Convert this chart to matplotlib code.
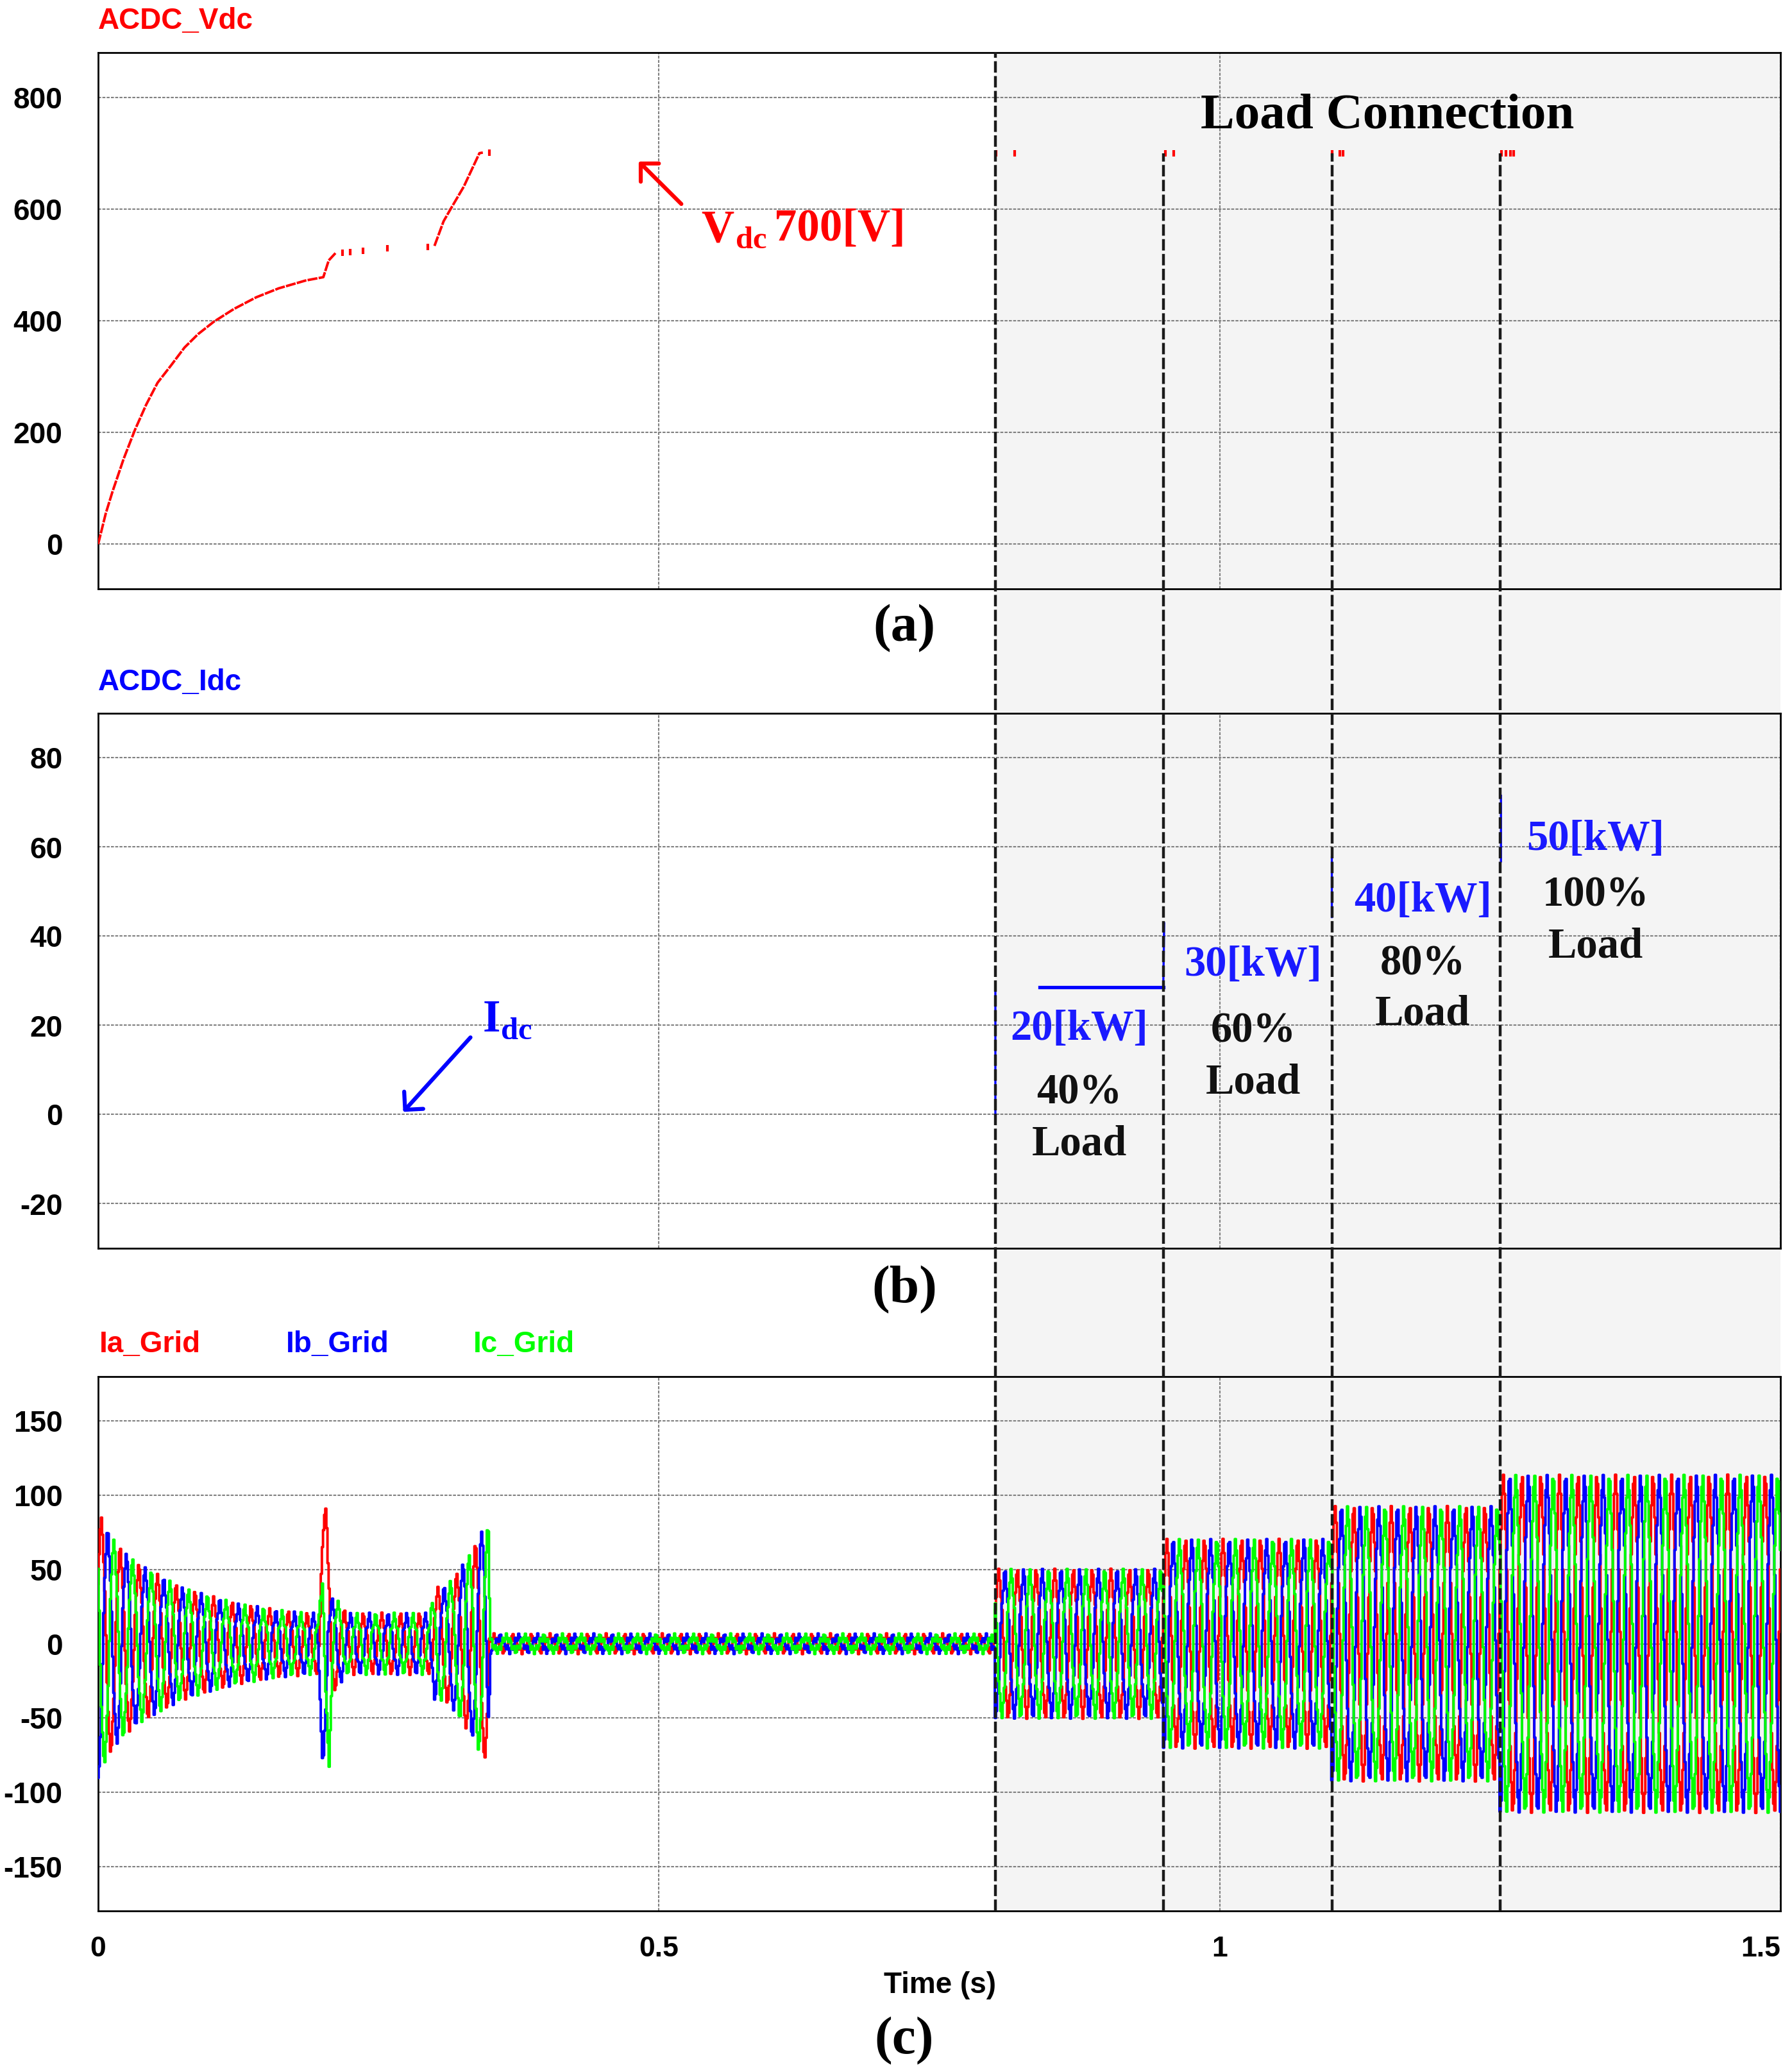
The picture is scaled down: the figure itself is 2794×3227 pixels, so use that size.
import numpy as np
import matplotlib
matplotlib.use("Agg")
import matplotlib.pyplot as plt
from matplotlib.transforms import blended_transform_factory
from matplotlib.patches import Rectangle
from matplotlib.lines import Line2D

# ======================= DATA =======================
# (a) DC-link voltage trace (continuous parts, NaN = gap)
vdc_t = [0.0, 0.0068, 0.0128, 0.0228, 0.0329, 0.0429, 0.053, 0.065, 0.077, 0.0891,
         0.103, 0.121, 0.141, 0.161, 0.185, 0.2008, 0.2056, 0.2116,
         np.nan, 0.2999, 0.308, 0.314, 0.326, 0.340, 0.343]
vdc_v = [0, 55, 94, 153, 205, 250, 289, 320, 352, 376,
         398, 421, 442, 458, 472, 478, 508, 521,
         np.nan, 534, 578, 599, 640, 700, 701]
# (a) isolated samples of the DC-link voltage
vdc_dot_t = [0.2176, 0.2248, 0.2361, 0.2578, 0.2939, 0.349,
             0.8005, 0.817, 0.9515, 0.959, 1.1005, 1.107, 1.110,
             1.2515, 1.255, 1.259, 1.262]
vdc_dot_v = [522, 523, 525, 530, 532, 701,
             700, 700, 700, 700, 700, 700, 700,
             700, 700, 700, 700]

# (b) DC current trace
idc_t = [0.8, 0.8, np.nan, 0.9497, 0.9505, np.nan, 1.1, 1.1, np.nan, 1.2508, 1.2508]
idc_v = [0, 28.6, np.nan, 28.6, 42.9, np.nan, 44.3, 57.7, np.nan, 56.8, 71.5]
idc_flat_t = [0.8397, 0.9497]
idc_flat_v = [28.6, 28.6]

# load steps
load_on_t = [0.8, 0.95, 1.1, 1.25]
load_kw = ["20[kW]", "30[kW]", "40[kW]", "50[kW]"]
load_pct = ["40%", "60%", "80%", "100%"]

# (c) grid currents: fundamental frequency, amplitude envelope
f_grid = 60.0
env_t = [0.000, 0.004, 0.010, 0.015, 0.025, 0.036, 0.058, 0.074, 0.093, 0.110,
         0.124, 0.141, 0.160, 0.190, 0.200, 0.210, 0.222, 0.296, 0.300, 0.309,
         0.315, 0.321, 0.327, 0.333, 0.338, 0.343, 0.3485, 0.3495, 0.7995, 0.8000,
         0.9495, 0.9500, 1.0995, 1.1000, 1.2495, 1.2500, 1.5000]
env_a = [88, 80, 72, 66, 58, 51, 42, 35.5, 31, 27.5,
         24.5, 22.5, 20, 18, 18, 30, 18, 18, 35, 36,
         40, 46, 53, 59, 67, 74, 76, 4.5, 4.5, 47,
         47, 67, 67, 89, 89, 110, 110]
# 5th-harmonic ripple amplitude
rip_t = [0.0, 0.349, 0.350, 0.7995, 0.800, 1.5]
rip_a = [3.0, 3.0, 2.5, 2.5, 3.5, 4.0]
# transient pulses around the t = 0.2 s event (added to each phase)
ia_pulse_t = [0.1965, 0.1990, 0.2015, 0.2036, 0.2055, 0.2080]
ia_pulse_v = [0, 45, 70, 65, 30, 0]
ib_pulse_t = [0.1965, 0.1990, 0.2005, 0.2025, 0.2050]
ib_pulse_v = [0, -45, -62, -40, 0]
ic_pulse_t = [0.1970, 0.2000, 0.2030, 0.2060, 0.2090]
ic_pulse_v = [0, 30, -20, -55, 0]
phase0 = 0.44
sample_dt = 1.0 / 1000.0

ylim_a = (-80, 880);  yticks_a = [0, 200, 400, 600, 800]
ylim_b = (-30, 90);   yticks_b = [-20, 0, 20, 40, 60, 80]
ylim_c = (-180, 180); yticks_c = [-150, -100, -50, 0, 50, 100, 150]
xticks = [0, 0.5, 1, 1.5]
xtick_labels = ["0", "0.5", "1", "1.5"]

# ======================= FIGURE =======================
W, H, DPI = 2794, 3227, 100
plt.rcParams["font.family"] = ["Liberation Sans", "DejaVu Sans"]
plt.rcParams["font.weight"] = "bold"
plt.rcParams["axes.unicode_minus"] = False
SERIF = ["Liberation Serif", "DejaVu Serif"]
RED, BLUE, GREEN = "#ff0000", "#0000ff", "#00ff00"
TXTBLUE = "#1a1aff"

fig = plt.figure(figsize=(W / DPI, H / DPI), dpi=DPI)
fig.patch.set_facecolor("white")


def fx(px):
    return px / W


def fy(py):
    return 1 - py / H


AX_L, AX_R = 153, 2776


def add_ax(top, bottom):
    return fig.add_axes([fx(AX_L), fy(bottom), fx(AX_R) - fx(AX_L), fy(top) - fy(bottom)])


ax_a = add_ax(82, 918)
ax_b = add_ax(1112, 1946)
ax_c = add_ax(2146, 2979)

for ax, yl, yt in [(ax_a, ylim_a, yticks_a), (ax_b, ylim_b, yticks_b), (ax_c, ylim_c, yticks_c)]:
    ax.set_facecolor("none")
    ax.set_xlim(0, 1.5)
    ax.set_ylim(*yl)
    ax.set_yticks(yt)
    ax.set_xticks(xticks, labels=xtick_labels)
    ax.grid(True, color="#808080", linestyle=(0, (2.2, 1.0)), linewidth=1.5)
    ax.set_axisbelow(True)
    for s in ax.spines.values():
        s.set_linewidth(2.0)
        s.set_color("black")
    ax.tick_params(axis="y", length=0, pad=40, labelsize=33)
    ax.tick_params(axis="x", length=0, pad=28, labelsize=32)
    if ax is not ax_c:
        ax.tick_params(axis="x", labelbottom=False)

ax_c.get_xticklabels()[-1].set_horizontalalignment("right")

# ---- (a) Vdc ----
ax_a.plot(vdc_t, vdc_v, color=RED, lw=2.8, linestyle=(0, (4.0, 0.5)), zorder=3)
ax_a.plot(vdc_dot_t, vdc_dot_v, linestyle="none", marker="|", markersize=7,
          markeredgewidth=3, color=RED, zorder=3)
ax_a.annotate("", xy=(0.482, 685), xytext=(0.520, 609),
              arrowprops=dict(arrowstyle="->,head_length=0.4,head_width=0.4",
                              color=RED, lw=4.5, mutation_scale=36, shrinkA=0, shrinkB=0,
                              capstyle="round", joinstyle="round"))

# ---- (b) Idc ----
ax_b.plot(idc_t, idc_v, color=BLUE, lw=2.4, zorder=3)
ax_b.plot(idc_flat_t, idc_flat_v, color=BLUE, lw=3.8, zorder=3)
ax_b.annotate("", xy=(0.272, 0.6), xytext=(0.332, 17.3),
              arrowprops=dict(arrowstyle="->,head_length=0.4,head_width=0.4",
                              color=BLUE, lw=4.5, mutation_scale=36, shrinkA=0, shrinkB=0,
                              capstyle="round", joinstyle="round"))

# ---- (c) grid currents ----
t = np.arange(0.0, 1.5 + sample_dt, sample_dt)
env = np.interp(t, env_t, env_a)
rip = np.interp(t, rip_t, rip_a)
w = 2 * np.pi * f_grid
shifts = [0.0, -2 * np.pi / 3, 2 * np.pi / 3]
pulses = [(ia_pulse_t, ia_pulse_v), (ib_pulse_t, ib_pulse_v), (ic_pulse_t, ic_pulse_v)]
for col, sh, (pt, pv) in zip([RED, BLUE, GREEN], shifts, pulses):
    y = (env * np.sin(w * t + phase0 + sh)
         + rip * np.sin(5 * (w * t + phase0 + sh))
         + np.interp(t, pt, pv, left=0, right=0))
    ax_c.plot(t, y, color=col, lw=2.8, drawstyle="steps-mid", zorder=3)

# ---- shaded load-connection region & event lines ----
fig.canvas.draw()
blend = blended_transform_factory(ax_c.transData, fig.transFigure)
top_fig, bot_fig = fy(82), fy(2979)
rect = Rectangle((load_on_t[0], bot_fig), 1.5 - load_on_t[0], top_fig - bot_fig,
                 transform=blend, facecolor="#f4f4f4", edgecolor="none", zorder=-1)
fig.add_artist(rect)

y700 = fig.transFigure.inverted().transform(ax_a.transData.transform((0, 700)))[1]
for i, tx in enumerate(load_on_t):
    ytop = top_fig if i == 0 else y700
    ln = Line2D([tx, tx], [bot_fig, ytop], transform=blend, color="#1a1a1a",
                lw=3.2, dashes=(4.0, 1.2), zorder=5)
    fig.add_artist(ln)

# ---- texts ----
fig.text(fx(153), fy(45), "ACDC_Vdc", color=RED, fontsize=33, ha="left", va="baseline")
fig.text(fx(153), fy(1076), "ACDC_Idc", color=BLUE, fontsize=33, ha="left", va="baseline")
fig.text(fx(155), fy(2108), "Ia_Grid", color=RED, fontsize=33, ha="left", va="baseline")
fig.text(fx(446), fy(2108), "Ib_Grid", color=BLUE, fontsize=33, ha="left", va="baseline")
fig.text(fx(738), fy(2108), "Ic_Grid", color=GREEN, fontsize=33, ha="left", va="baseline")
fig.text(fx(1465), fy(3107), "Time (s)", color="black", fontsize=33, ha="center", va="baseline")

for lab, yb in [("(a)", 999), ("(b)", 2030), ("(c)", 3201)]:
    fig.text(fx(1410), fy(yb), lab, family=SERIF, fontweight="bold", fontsize=60,
             ha="center", va="baseline")

fig.text(fx(2163), fy(200), "Load Connection", family=SERIF, fontweight="bold",
         fontsize=57, ha="center", va="baseline")

# Vdc label
fig.text(fx(1093), fy(376), "V", family=SERIF, fontweight="bold", fontsize=51, color=RED, va="baseline")
fig.text(fx(1147), fy(387), "dc", family=SERIF, fontweight="bold", fontsize=35, color=RED, va="baseline")
fig.text(fx(1207), fy(375), "700[V]", family=SERIF, fontweight="bold", fontsize=51, color=RED, va="baseline")
# Idc label
fig.text(fx(753), fy(1608), "I", family=SERIF, fontweight="bold", fontsize=51, color=BLUE, va="baseline")
fig.text(fx(781), fy(1620), "dc", family=SERIF, fontweight="bold", fontsize=35, color=BLUE, va="baseline")

# load labels in panel (b): (x centre, baselines of kW / % / Load lines) in data units
label_x = [0.875, 1.030, 1.181, 1.335]
kw_base = [16.7, 31.1, 45.5, 59.3]
pct_base = [2.5, 16.3, 31.4, 46.7]
load_base = [-9.0, 4.8, 20.2, 35.2]
for x, kw, pc, b1, b2, b3 in zip(label_x, load_kw, load_pct, kw_base, pct_base, load_base):
    ax_b.text(x, b1, kw, family=SERIF, fontweight="bold", fontsize=48, color=TXTBLUE,
              ha="center", va="baseline", zorder=6)
    ax_b.text(x, b2, pc, family=SERIF, fontweight="bold", fontsize=48, color="#111111",
              ha="center", va="baseline", zorder=6)
    ax_b.text(x, b3, "Load", family=SERIF, fontweight="bold", fontsize=48, color="#111111",
              ha="center", va="baseline", zorder=6)

fig.savefig("out.png", dpi=DPI, facecolor="white")
